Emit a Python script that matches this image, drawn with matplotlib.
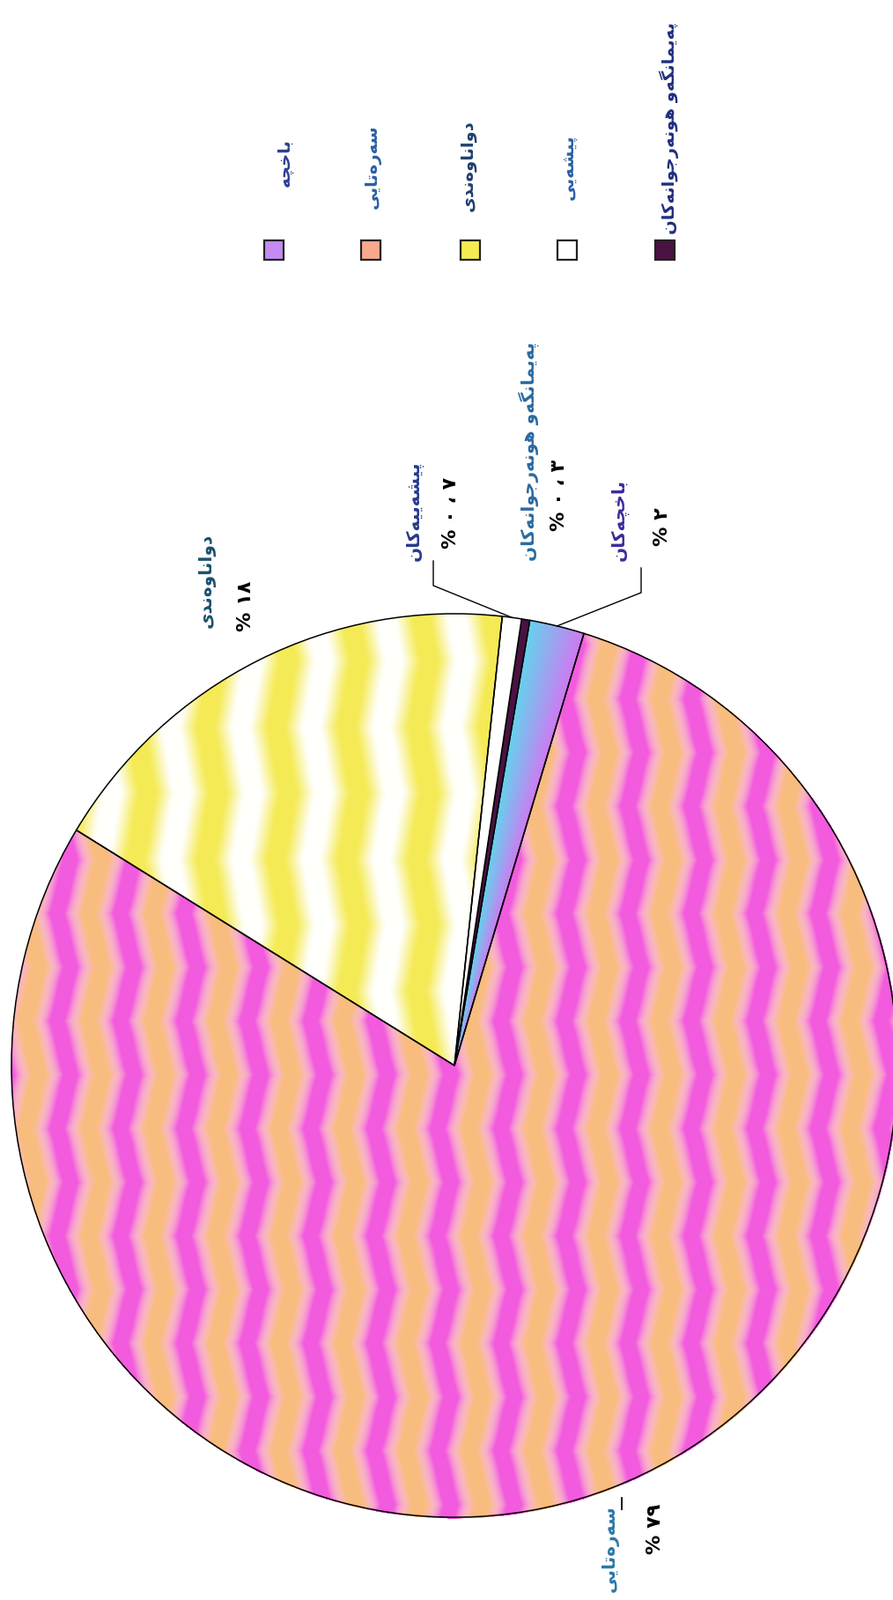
import numpy as np
import matplotlib
matplotlib.use("Agg")
import matplotlib.pyplot as plt
from matplotlib import font_manager, ft2font
from matplotlib.font_manager import FontProperties
from matplotlib.patches import Rectangle
from matplotlib.transforms import Affine2D

W, H = 1014, 1817

# data (pie order, counter-clockwise from the start angle)
slice_names = ["باخچەکان", "پەیمانگەو هونەرجوانەکان", "پیشەییەکان", "دواناوەندی", "سەرەتایی"]
values = [2, 0.3, 0.7, 18, 79]
colors = ["#c48cf2", "#4a1242", "#ffffff", "#f5ec52", "#f8a98c"]
legend_names = ["باخچە", "سەرەتایی", "دواناوەندی", "پیشەیی", "پەیمانگەو هونەرجوانەکان"]
legend_slice = [0, 4, 3, 2, 1]

# layout (image pixel coords, y from top)
cx, cy, radius, yscale = 516, 1210, 503, 1.02
label_pos = [(703, 637), (600, 637), (470, 637), (235, 713), (693, 1808)]
value_pos = [(752, 620), (635, 603), (512, 623), (279, 717), (744, 1765)]
label_cols = ["#3a2c9c", "#2a6aa0", "#253a8c", "#1d4f70", "#2b78a8"]
leg_x = [311, 421, 534, 644, 755]
leg_text_x = [323, 423, 531, 645, 760]
leg_text_bottom = [212, 237, 240, 227, 266]
leg_cols = ["#2c3f95", "#2a5fa5", "#1f3f6f", "#2a5fa5", "#1f2f80"]

# --- arabic shaping (matplotlib has none) ---
FORMS = {
    "ا": (0xFE8D, 0xFE8E), "د": (0xFEA9, 0xFEAA), "ر": (0xFEAD, 0xFEAE),
    "و": (0xFEED, 0xFEEE), "ە": (0x06D5, 0xFEEA),
    "ب": (0xFE8F, 0xFE90, 0xFE91, 0xFE92), "پ": (0xFB56, 0xFB57, 0xFB58, 0xFB59),
    "ت": (0xFE95, 0xFE96, 0xFE97, 0xFE98), "ج": (0xFE9D, 0xFE9E, 0xFE9F, 0xFEA0),
    "چ": (0xFB7A, 0xFB7B, 0xFB7C, 0xFB7D), "خ": (0xFEA5, 0xFEA6, 0xFEA7, 0xFEA8),
    "س": (0xFEB1, 0xFEB2, 0xFEB3, 0xFEB4), "ش": (0xFEB5, 0xFEB6, 0xFEB7, 0xFEB8),
    "ک": (0xFB8E, 0xFB8F, 0xFB90, 0xFB91), "گ": (0xFB92, 0xFB93, 0xFB94, 0xFB95),
    "م": (0xFEE1, 0xFEE2, 0xFEE3, 0xFEE4), "ن": (0xFEE5, 0xFEE6, 0xFEE7, 0xFEE8),
    "ه": (0xFEE9, 0xFEEA, 0xFEEB, 0xFEEC), "ی": (0xFBFC, 0xFBFD, 0xFBFE, 0xFBFF),
}
ALT = {0xFBFC: 0xFEEF, 0xFBFD: 0xFEF0, 0xFBFE: 0xFEF3, 0xFBFF: 0xFEF4,
       0xFB8E: 0xFED9, 0xFB8F: 0xFEDA, 0xFB90: 0xFEDB, 0xFB91: 0xFEDC}

fp_bold = FontProperties(family="DejaVu Sans", weight="bold")
cmap = ft2font.FT2Font(font_manager.findfont(fp_bold)).get_charmap()
if 0xFE8D not in cmap:
    fp_bold = FontProperties(family="DejaVu Sans")
    cmap = ft2font.FT2Font(font_manager.findfont(fp_bold)).get_charmap()


def shape(s):
    out = []
    for i, c in enumerate(s):
        if c not in FORMS:
            out.append(c)
            continue
        f = FORMS[c]
        prev = s[i - 1] if i > 0 else ""
        nxt = s[i + 1] if i + 1 < len(s) else ""
        jp = prev in FORMS and len(FORMS[prev]) == 4
        jn = len(f) == 4 and nxt in FORMS
        k = 3 if (jp and jn) else 1 if jp else 2 if jn else 0
        cp = f[k]
        if cp not in cmap:
            cp = ALT.get(cp, ord(c))
        if cp not in cmap:
            cp = ord(c)
        out.append(chr(cp))
    return "".join(out[::-1])


def num(v):
    base = 0x06F0 if 0x06F0 in cmap else 0x0660
    s = f"{v:g}"
    s = "".join(chr(base + int(ch)) if ch.isdigit() else " ، " for ch in s)
    return "% " + s


fig = plt.figure(figsize=(W / 100, H / 100), dpi=100)
ax = fig.add_axes([0, 0, 1, 1])

wedges, _ = ax.pie(values, colors=colors, startangle=73, counterclock=True,
                   center=(cx, H - cy), radius=radius,
                   wedgeprops=dict(edgecolor="black", linewidth=1.1))
# the scanned pie is a touch taller than wide
squash = Affine2D().translate(-cx, -(H - cy)).scale(1, yscale).translate(cx, H - cy)
for w in wedges:
    w.set_transform(squash + ax.transData)

# scanned-look textures for the big slices
yy, xx = np.mgrid[0:H, 0:W].astype(np.float32)


def wave(u):
    # rounded zigzag
    tr = 2 * np.abs(2 * (u - np.floor(u + 0.5))) - 1
    return 0.8 * tr + 0.2 * np.cos(2 * np.pi * u)


def bands(period, zper, zamp, sharp):
    ph = (xx + zamp * wave(yy / zper)) / period
    t = 0.5 + 0.5 * np.cos(2 * np.pi * ph)
    return np.clip((t - 0.5) * sharp + 0.5, 0, 1)[..., None]


ang = np.degrees(np.arctan2((cy - yy) / yscale, xx - cx)) % 360
rr = np.hypot(xx - cx, (yy - cy) / yscale)


def inside(w):
    return (((ang - w.theta1) % 360) < (w.theta2 - w.theta1)) & (rr <= radius + 1)


rgba = np.zeros((H, W, 4), np.float32)
t = bands(72, 122, 13, 1.3)
mag = np.array([0.95, 0.36, 0.87])
org = np.array([0.98, 0.74, 0.50])
pink = t * mag + (1 - t) * org
pink = pink + (1 - pink) * (0.3 * 4 * t * (1 - t))
m = inside(wedges[4])
rgba[m, :3] = pink[m]
rgba[m, 3] = 1

t = bands(80, 150, 12, 1.35)
yel = t * np.array([0.96, 0.92, 0.34]) + (1 - t) * np.array([1.0, 1.0, 0.99])
m = inside(wedges[3])
rgba[m, :3] = yel[m]
rgba[m, 3] = 1

w0 = wedges[0]
g = np.clip((ang - w0.theta1) / (w0.theta2 - w0.theta1), 0, 1)[..., None]
grad = (1 - g) * np.array([0.82, 0.47, 0.95]) + g * np.array([0.40, 0.82, 0.93])
m = inside(w0)
rgba[m, :3] = grad[m]
rgba[m, 3] = 1

ax.imshow(rgba, extent=(0, W, 0, H), origin="upper", zorder=2,
          interpolation="nearest")
for i, w in enumerate(wedges):
    if i in (0, 3, 4):
        w.set_facecolor("none")
    w.set_zorder(3)

# leader bracket for the three small slices
for wi, (ex, ey) in [(2, (492, 665)), (0, (728, 673))]:
    w = wedges[wi]
    a = np.radians((w.theta1 + w.theta2) / 2)
    px, py = cx + radius * np.cos(a), (H - cy) + radius * yscale * np.sin(a)
    ax.plot([px, ex, ex], [py, H - ey, H - ey + 28], color="black", lw=1.0, zorder=4)
ax.plot([706, 706], [H - 1701, H - 1714], color="black", lw=1.3)

for i in range(len(values)):
    lx, ly = label_pos[i]
    ax.text(lx, H - ly, shape(slice_names[i]), rotation=90, rotation_mode="anchor",
            ha="left", va="center", fontproperties=fp_bold, fontsize=14.5,
            color=label_cols[i])
    vx, vy = value_pos[i]
    ax.text(vx, H - vy, num(values[i]), rotation=90, rotation_mode="anchor",
            ha="left", va="center", fontproperties=fp_bold, fontsize=16,
            color="black")

# legend
for j, si in enumerate(legend_slice):
    ax.add_patch(Rectangle((leg_x[j] - 11, H - 284 - 11), 22, 22,
                           facecolor=colors[si], edgecolor="#222222", lw=1.6, zorder=4))
    ax.text(leg_text_x[j], H - leg_text_bottom[j], shape(legend_names[j]), rotation=90,
            rotation_mode="anchor", ha="left", va="center", fontproperties=fp_bold,
            fontsize=14, color=leg_cols[j])

ax.set_xlim(0, W)
ax.set_ylim(0, H)
ax.set_aspect("equal")
ax.axis("off")
fig.savefig("out.png", dpi=100)
